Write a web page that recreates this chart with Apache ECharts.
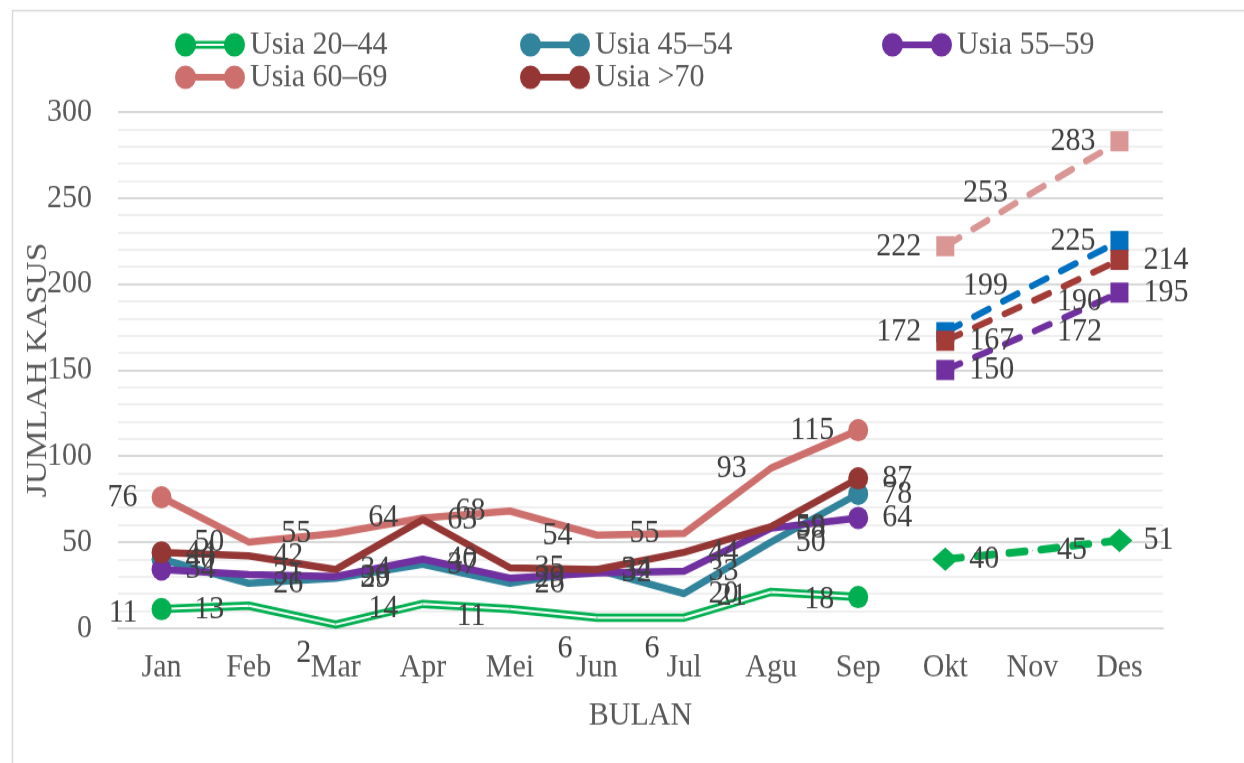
<!DOCTYPE html>
<html><head><meta charset="utf-8">
<script src="https://cdn.jsdelivr.net/npm/echarts/dist/echarts.min.js"></script>
<style>
html,body{margin:0;padding:0;background:#fff;overflow:hidden}
#wrap{width:1244px;height:763px;overflow:hidden;background:#fff}
#c{width:1244px;height:681px;transform:scaleY(1.12);transform-origin:0 0}
</style>
</head><body><div id="wrap"><div id="c"></div></div><script>
// ---- data ----
const months = ['Jan','Feb','Mar','Apr','Mei','Jun','Jul','Agu','Sep','Okt','Nov','Des'];
const seriesNames = ['Usia 20–44','Usia 45–54','Usia 55–59','Usia 60–69','Usia >70'];
const usia2044 = [11,13,2,14,11,6,6,21,18];
const usia4554 = [40,26,29,37,26,34,20,50,78];
const usia5559 = [34,31,30,40,29,32,33,58,64];
const usia6069 = [76,50,55,64,68,54,55,93,115];
const usia70   = [44,42,34,63,35,34,44,59,87];
const fc2044 = [40,45,51];
const fc4554 = [172,199,225];
const fc5559 = [150,172,195];
const fc6069 = [222,253,283];
const fc70   = [167,190,214];
const yTicks = [0,50,100,150,200,250,300];

// ---- styling ----
const FONT = 'Liberation Serif, Times New Roman, serif';
const LBL = {show:true, fontFamily:FONT, fontSize:30, color:'#404040'};
const greenOffsets = {0:[0,3],1:[0,3],2:[0,25],3:[0,4],4:[0,6],5:[0,28],6:[0,28],7:[0,4],8:[0,2]};

function mainData(vals, endSize, pos, offsets){
  return vals.map((v,i)=>{
    const end = (i===0 || i===vals.length-1);
    const d = {value:v, symbolSize: end?endSize:1,
      label:{position:pos, distance: end?14:24}};
    if (offsets && offsets[i]) d.label.offset = offsets[i];
    return d;
  });
}
function fcData(vals, endSize, pos){
  const arr = months.map(()=>null);
  vals.forEach((v,k)=>{
    const i = months.length - vals.length + k;
    const end = (k===0 || k===vals.length-1);
    const w = Array.isArray(endSize)?endSize[0]:endSize;
    arr[i] = {value:v, symbolSize: end?endSize:1, label:{position:pos, distance: end?(24-w/2):24}};
  });
  return arr;
}
function mainSeries(name, vals, color, pos){
  return {name, type:'line', data: mainData(vals, 20, pos), symbol:'circle', z:3,
    itemStyle:{color}, lineStyle:{color, width:6.5, join:'round', cap:'round'},
    label:Object.assign({}, LBL), silent:true, emphasis:{disabled:true}};
}
function fcSeries(vals, color, symbol, size, pos, width){
  return {type:'line', data: fcData(vals, size, pos), symbol, z:4,
    itemStyle:{color}, lineStyle:{color, width:width||6, type:[16,16], cap:'round', join:'round'},
    label:Object.assign({}, LBL), silent:true, emphasis:{disabled:true}};
}

const C = {green:'#00B050', teal:'#31849B', purple:'#7030A0', pink:'#CD706D', red:'#943634'};

const series = [
  // green double line: thick green, thin white core, then end markers + labels
  {type:'line', data: usia2044, showSymbol:false, symbol:'none', z:2, silent:true,
    lineStyle:{color:C.green, width:7.5, join:'round'}, itemStyle:{color:C.green}},
  {type:'line', data: usia2044, showSymbol:false, symbol:'none', z:2, silent:true,
    lineStyle:{color:'#ffffff', width:2, join:'round'}, itemStyle:{color:'#fff'}},
  {name:seriesNames[0], type:'line', data: mainData(usia2044, 20, 'left', greenOffsets), symbol:'circle', z:3,
    itemStyle:{color:C.green}, lineStyle:{width:0, color:C.green}, label:Object.assign({}, LBL), silent:true, emphasis:{disabled:true}},
  mainSeries(seriesNames[1], usia4554, C.teal, 'right'),
  mainSeries(seriesNames[2], usia5559, C.purple, 'right'),
  mainSeries(seriesNames[3], usia6069, C.pink, 'left'),
  mainSeries(seriesNames[4], usia70, C.red, 'right'),
  fcSeries(fc2044, C.green, 'diamond', [26,21], 'right', 7),
  fcSeries(fc4554, '#0070C0', 'rect', 18, 'left'),
  fcSeries(fc70, '#A33B37', 'rect', 18, 'right'),
  fcSeries(fc5559, '#7030A0', 'rect', 18, 'right'),
  fcSeries(fc6069, '#DA9694', 'rect', 18, 'left'),
];

const dumbbell = 'path://M0,10.5A10.5,10.5,0,1,1,21,10.5A10.5,10.5,0,1,1,0,10.5Z M49,10.5A10.5,10.5,0,1,1,70,10.5A10.5,10.5,0,1,1,49,10.5Z M10,7.5L60,7.5L60,13.5L10,13.5Z';
const dumbbellDouble = 'path://M0,10.5A10.5,10.5,0,1,1,21,10.5A10.5,10.5,0,1,1,0,10.5Z M49,10.5A10.5,10.5,0,1,1,70,10.5A10.5,10.5,0,1,1,49,10.5Z M10,7L60,7L60,9.5L10,9.5Z M10,11.5L60,11.5L60,14L10,14Z';
const legendPos = [[175,25],[520,25],[882,25],[175,54],[520,54]];
const legends = seriesNames.map((n,i)=>({
  data:[n], left:legendPos[i][0], top:legendPos[i][1], padding:0,
  icon: i===0 ? dumbbellDouble : dumbbell, itemWidth:70, itemHeight:21, itemGap:0,
  selectedMode:false, textStyle:{fontFamily:FONT, fontSize:30, color:'#595959'}
}));

const chart = echarts.init(document.getElementById('c'), null, {renderer:'canvas'});
chart.setOption({
  animation:false,
  backgroundColor:'#ffffff',
  graphic:[{type:'rect', left:10, top:7, shape:{width:1250, height:700}, style:{fill:'none', stroke:'#d9d9d9', lineWidth:1.5}, silent:true}],
  legend: legends,
  grid:{left:118, right:81, top:100, bottom:120.3, outerBoundsMode:'none', containLabel:false},
  xAxis:{type:'category', data:months, boundaryGap:true,
    axisTick:{show:false}, axisLine:{show:true, lineStyle:{color:'#d9d9d9', width:2}},
    axisLabel:{fontFamily:FONT, fontSize:30, color:'#595959', margin:20, interval:0},
    name:'BULAN', nameLocation:'middle', nameGap:63, nameMoveOverlap:false,
    nameTextStyle:{fontFamily:FONT, fontSize:30, color:'#595959'}},
  yAxis:{type:'value', min:yTicks[0], max:yTicks[yTicks.length-1], interval:yTicks[1]-yTicks[0],
    axisLine:{show:false}, axisTick:{show:false},
    axisLabel:{fontFamily:FONT, fontSize:30, color:'#595959', margin:26},
    splitLine:{show:true, lineStyle:{color:'#d9d9d9', width:2}},
    minorTick:{show:false, splitNumber:5},
    minorSplitLine:{show:true, lineStyle:{color:'#efefef', width:2}},
    name:'JUMLAH KASUS', nameLocation:'middle', nameGap:65, nameMoveOverlap:false,
    nameTextStyle:{fontFamily:FONT, fontSize:30, color:'#595959'}},
  series
});
</script></body></html>
